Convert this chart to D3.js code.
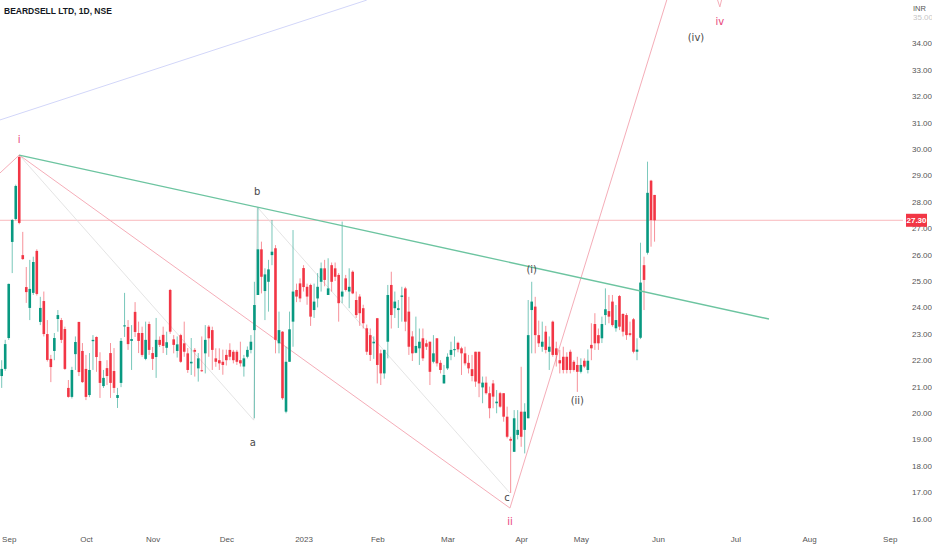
<!DOCTYPE html>
<html><head><meta charset="utf-8">
<script src="https://cdn.jsdelivr.net/npm/d3@7"></script>
<style>html,body{margin:0;padding:0;background:#fff;overflow:hidden}</style>
</head><body><svg id="chart" width="932" height="550"></svg>
<script>
// ---- DATA (BEARDSELL LTD, daily, NSE) : one entry per trading session, Aug 29 2022 .. May 31 2023
const opens = [
21.40,21.67,22.84,26.48,27.35,29.70,25.98,24.77,23.98,24.55,
26.14,23.45,24.24,22.99,22.05,22.35,23.56,23.52,23.18,20.95,
20.61,22.23,23.45,22.35,21.67,20.68,22.72,22.88,21.97,21.02,
21.70,22.27,21.59,20.57,21.14,23.28,23.26,22.73,23.83,23.03,
23.03,22.05,23.37,22.27,22.12,22.77,22.96,22.47,24.66,22.79,
22.35,22.95,22.64,22.26,21.88,22.39,21.69,21.62,22.26,23.27,
23.14,22.07,22.00,21.94,22.20,22.39,22.32,22.32,22.00,21.76,
22.13,22.39,23.14,24.47,26.20,24.62,24.97,25.98,26.24,22.64,
23.08,20.05,21.94,23.46,24.66,24.91,25.49,24.78,24.85,23.90,
24.34,24.97,25.48,24.47,25.60,25.48,25.23,24.41,25.10,24.60,
25.35,24.28,24.41,23.97,23.21,22.95,22.64,23.59,22.26,21.50,
22.70,24.85,23.97,23.90,24.40,24.72,23.84,22.90,22.28,22.45,
22.83,22.64,22.70,21.94,22.83,21.90,21.12,21.69,22.20,22.38,
22.66,22.45,22.26,21.90,21.66,22.32,22.32,20.97,21.15,20.75,
21.12,20.37,20.75,20.75,19.86,19.02,18.53,19.17,20.05,19.36,
19.80,23.90,24.03,22.95,22.51,23.08,22.32,23.46,22.45,22.00,
22.13,22.13,22.32,21.94,21.82,21.56,21.98,21.63,22.58,23.37,
22.95,22.83,23.71,23.86,24.22,23.21,24.43,23.75,23.71,23.02,
23.55,22.32,22.85,25.60,26.07,28.80,28.26];
const highs = [
22.00,22.77,24.90,27.35,28.65,29.77,26.86,25.53,25.80,25.92,
26.20,24.40,24.60,23.52,22.20,23.03,23.90,23.60,23.27,21.25,
21.75,22.90,23.45,22.65,22.20,22.27,22.95,22.90,22.30,21.63,
22.00,22.65,22.46,20.95,22.84,24.55,23.52,23.33,24.20,23.46,
23.27,23.46,23.46,22.50,23.60,22.90,23.27,23.08,24.70,22.95,
22.90,23.00,23.46,22.46,22.84,22.46,22.27,22.90,23.33,23.33,
23.27,22.45,22.45,22.40,22.40,22.64,22.39,22.39,22.70,22.20,
22.52,22.95,24.97,27.80,26.49,25.48,25.80,27.31,26.36,23.84,
23.10,22.51,23.84,26.93,24.90,25.10,25.60,24.90,24.90,24.90,
25.30,25.70,25.80,25.86,25.70,25.70,25.30,27.25,25.23,25.48,
25.40,24.60,24.50,24.10,23.35,23.20,22.90,23.60,22.40,22.40,
24.85,25.35,24.60,24.28,24.78,24.78,24.40,23.10,23.65,23.20,
23.20,22.77,22.70,22.95,22.83,22.00,21.82,22.26,22.70,22.90,
22.70,22.51,22.51,22.20,22.20,22.32,22.32,21.38,21.38,21.00,
21.25,20.87,20.80,20.75,20.24,19.10,20.11,20.11,21.75,20.37,
24.28,24.97,24.40,23.50,23.46,23.30,22.90,23.50,22.70,22.39,
22.51,22.30,22.40,22.00,22.13,22.07,22.07,22.41,23.40,23.78,
23.20,23.65,24.72,24.47,24.47,24.09,24.47,23.78,23.78,23.46,
23.60,22.83,26.45,25.92,29.52,28.83,28.26];
const lows = [
20.95,21.60,22.77,25.30,27.30,27.15,25.80,24.17,23.52,24.47,
24.45,23.33,22.90,21.95,21.17,22.00,23.08,22.65,21.63,20.58,
20.55,21.63,21.40,21.14,20.49,20.60,21.63,21.56,20.57,20.95,
21.06,20.57,20.76,20.19,20.98,22.88,22.39,21.63,22.88,22.27,
22.13,22.00,22.20,21.63,21.33,22.50,22.27,22.20,23.00,22.26,
22.10,21.90,22.13,21.52,21.44,21.38,21.19,21.56,21.50,22.13,
21.63,21.75,21.63,21.45,21.80,22.00,21.88,21.82,21.76,21.38,
22.07,22.26,19.80,24.47,24.53,23.52,23.84,25.60,22.26,22.26,
20.50,19.99,21.94,22.51,24.20,24.20,24.60,24.10,23.30,23.60,
24.00,24.60,24.80,24.47,24.60,25.00,23.46,24.16,24.60,23.97,
24.50,23.60,23.30,23.20,22.20,21.97,22.05,21.12,21.06,21.30,
22.07,23.20,23.60,23.22,23.46,23.10,22.20,21.97,22.26,21.82,
21.97,22.39,21.06,21.88,21.76,21.50,21.12,21.63,22.00,22.13,
22.30,21.44,21.80,21.50,21.20,20.99,20.60,20.37,20.70,19.80,
20.18,19.99,20.20,19.67,19.04,16.97,18.53,19.00,18.72,18.47,
19.80,22.26,22.26,22.50,22.32,22.26,21.63,22.13,21.76,21.50,
21.50,21.50,21.50,21.57,20.80,21.50,21.70,21.50,22.00,22.39,
22.39,22.65,23.33,23.40,23.27,23.08,23.14,22.90,22.77,22.90,
22.26,22.00,22.80,23.90,26.00,26.30,26.49];
const closes = [
21.67,22.61,24.89,27.31,28.60,27.20,25.83,24.58,24.70,25.72,
24.51,23.98,22.99,22.01,21.74,22.84,23.71,22.77,21.67,20.61,
21.63,22.69,21.55,21.17,20.61,21.63,22.77,22.12,21.14,21.33,
21.40,21.14,20.95,20.68,22.73,23.32,22.61,22.80,23.07,22.73,
22.20,22.77,22.39,22.05,22.77,22.58,22.54,22.68,23.08,22.58,
22.60,21.94,22.32,21.63,21.94,22.32,22.07,21.60,22.77,22.83,
22.39,21.94,21.88,21.82,22.00,22.13,22.00,21.94,21.88,22.07,
22.39,22.70,24.09,26.20,25.16,25.25,25.44,26.11,22.77,23.14,
20.56,21.94,23.17,24.60,24.41,24.34,24.77,24.41,23.65,24.22,
24.78,25.48,25.04,24.72,24.97,25.16,24.16,24.60,24.66,24.78,
24.53,23.71,23.78,23.40,22.32,22.20,22.70,21.82,21.50,22.39,
24.47,23.71,24.22,23.97,24.45,23.46,22.51,22.26,22.54,22.70,
22.07,22.51,21.56,22.26,21.88,21.63,21.44,22.13,22.39,22.42,
22.41,22.26,21.88,21.69,21.40,21.19,21.12,21.15,20.75,20.18,
20.62,20.43,20.24,19.86,19.10,18.95,19.80,19.36,19.10,20.05,
22.95,24.22,22.95,22.64,22.70,22.39,22.51,22.20,22.20,21.88,
21.63,21.63,21.63,21.63,21.56,21.82,21.76,21.98,22.45,22.64,
22.64,23.37,23.93,23.65,23.33,23.52,23.27,23.08,22.95,22.96,
22.32,22.40,24.94,25.04,28.34,27.31,27.30];

// axis ticks
const monthLabels = ["Sep","Oct","Nov","Dec","2023","Feb","Mar","Apr","May","Jun","Jul","Aug","Sep"];
const monthIdx    = [2,24,43,64,86,107,127,148,165,187,209,230,253];
const priceTicks  = [16,17,18,19,20,21,22,23,24,25,26,27,28,29,30,31,32,33,34];
const lastPrice = 27.30;

// drawings (bar index, price)
const blueTrend  = [[-0.5,31.10],[104,35.64]];
const greenTrend = [[5,29.77],[218.6,23.56]];
const pinkWave   = [[-0.5,29.09],[5,29.77],[144.8,16.40],[196.5,38.67],[204.6,35.38],[207.5,36.97]];
const grayWave   = [[5,29.77],[71.8,19.73],[72.8,27.80],[144.8,16.97]];
const pinkLabels = [{t:"i",i:5,p:29.77,dy:-15},{t:"ii",i:144.8,p:16.40,dy:14},{t:"iv",i:204.6,p:35.38,dy:15}];
const grayLabels = [{t:"a",i:71.8,p:19.73,dy:23,dx:-1},{t:"b",i:72.8,p:27.80,dy:-15,dx:0},{t:"c",i:144.8,p:16.97,dy:5,dx:-3},
                    {t:"(i)",i:151,p:24.97,dy:-12,dx:0},{t:"(ii)",i:164,p:20.80,dy:9,dx:0},{t:"(iv)",i:197.8,p:34.20,dy:0,dx:0}];

// ---- CHART
const svg = d3.select("#chart");
const x = d3.scaleLinear().domain([0,186]).range([1.7, 1.7+186*3.51]);
const y = d3.scaleLinear().domain([16,30]).range([518.6,149]);
const UP = "#089981", DOWN = "#f23645";

svg.append("defs").append("clipPath").attr("id","plot")
  .append("rect").attr("x",0).attr("y",0).attr("width",903).attr("height",530);
const plot = svg.append("g").attr("clip-path","url(#plot)");

const line = d3.line().x(d=>x(d[0])).y(d=>y(d[1]));

// last price line
plot.append("line").attr("x1",0).attr("x2",905).attr("y1",y(lastPrice)).attr("y2",y(lastPrice))
  .attr("stroke","#f9b8bc").attr("stroke-width",1);

// trend lines
plot.append("path").attr("d",line(blueTrend)).attr("fill","none").attr("stroke","#d2d6f9").attr("stroke-width",1);
plot.append("path").attr("d",line(grayWave)).attr("fill","none").attr("stroke","#dddddd").attr("stroke-width",0.8);
plot.append("path").attr("d",line(pinkWave)).attr("fill","none").attr("stroke","#f5adb8").attr("stroke-width",1);

// candles
const idx = d3.range(opens.length);
const cg = plot.append("g");
cg.selectAll("line.w").data(idx).join("line").attr("class","w")
  .attr("x1",i=>x(i)).attr("x2",i=>x(i)).attr("y1",i=>y(highs[i])).attr("y2",i=>y(lows[i]))
  .attr("stroke",i=>closes[i]>=opens[i]?UP:DOWN).attr("stroke-width",0.9).attr("opacity",0.6);
cg.selectAll("rect.b").data(idx).join("rect").attr("class","b")
  .attr("x",i=>x(i)-1.3).attr("width",2.6)
  .attr("y",i=>y(Math.max(opens[i],closes[i])))
  .attr("height",i=>Math.max(1,Math.abs(y(opens[i])-y(closes[i]))))
  .attr("fill",i=>closes[i]>=opens[i]?UP:DOWN);

plot.append("path").attr("d",line(greenTrend)).attr("fill","none").attr("stroke","#6cc4a0").attr("stroke-width",1.4);

// wave labels
const lf = "'DejaVu Sans', sans-serif";
plot.selectAll("text.pl").data(pinkLabels).join("text").attr("class","pl")
  .attr("x",d=>x(d.i)).attr("y",d=>y(d.p)+d.dy).attr("text-anchor","middle").attr("dominant-baseline","middle")
  .attr("font-family",lf).attr("font-size",10).attr("fill","#e8457a").text(d=>d.t);
plot.selectAll("text.gl").data(grayLabels).join("text").attr("class","gl")
  .attr("x",d=>x(d.i)+d.dx).attr("y",d=>y(d.p)+d.dy).attr("text-anchor","middle").attr("dominant-baseline","middle")
  .attr("font-family",lf).attr("font-size",10).attr("fill","#4a4a4a").text(d=>d.t);

// price axis
const af = "'Liberation Sans Narrow','Liberation Sans',sans-serif";
const ya = svg.append("g").attr("transform","translate(910,0)")
  .call(d3.axisRight(y).tickValues(priceTicks).tickFormat(d3.format(".2f")).tickSize(0).tickPadding(2));
ya.select(".domain").remove();
ya.selectAll("text").attr("font-family",af).attr("font-size",8).attr("fill","#555");
svg.append("text").attr("x",913).attr("y",y(35)+3).attr("font-family",af).attr("font-size",8)
  .attr("fill","#555").attr("opacity",0.35).text("35.00");
svg.append("text").attr("x",913).attr("y",11).attr("font-family",af).attr("font-size",7.5)
  .attr("fill","#555").text("INR");

// last price tag
svg.append("rect").attr("x",906).attr("y",y(lastPrice)-6.5).attr("width",21).attr("height",13).attr("fill",DOWN);
svg.append("text").attr("x",916.5).attr("y",y(lastPrice)+3).attr("text-anchor","middle")
  .attr("font-family",af).attr("font-size",8).attr("font-weight","bold").attr("fill","#fff").text(lastPrice.toFixed(2));

// time axis
const xa = svg.append("g").attr("transform","translate(0,534)")
  .call(d3.axisBottom(x).tickValues(monthIdx).tickFormat((d,i)=>monthLabels[i]).tickSize(0).tickPadding(2));
xa.select(".domain").remove();
xa.selectAll("text").attr("font-family",af).attr("font-size",8).attr("fill","#555");

// title
svg.append("text").attr("x",4).attr("y",14).attr("font-family",af).attr("font-size",8.5)
  .attr("font-weight","bold").attr("fill","#131722").text("BEARDSELL LTD, 1D, NSE");
</script></body></html>
